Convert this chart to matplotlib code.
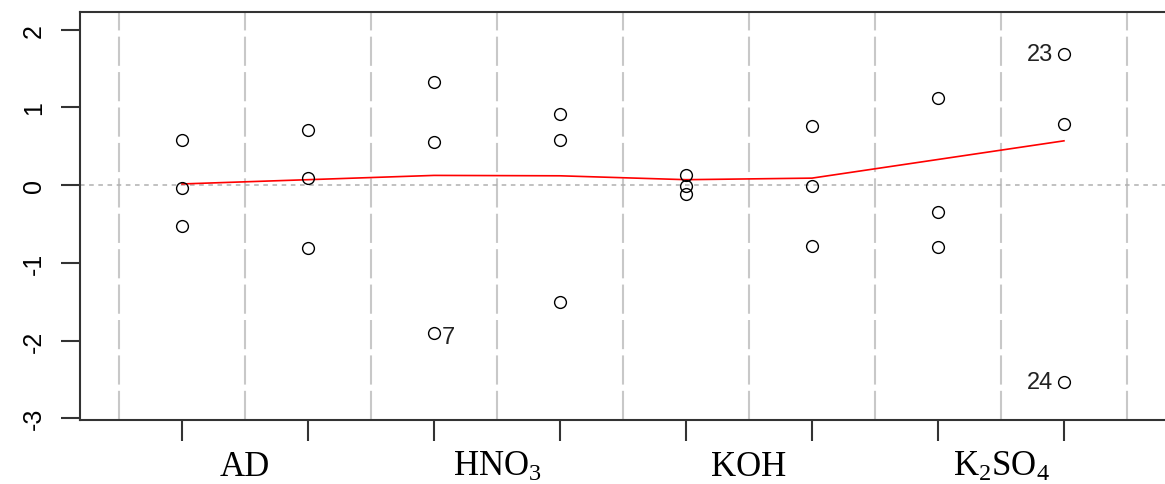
import matplotlib
matplotlib.use("Agg")
import matplotlib.pyplot as plt
import matplotlib.transforms as mtransforms
import numpy as np

# ---- data ----
group_x = [1, 1, 1, 2, 2, 2, 3, 3, 3, 4, 4, 4, 5, 5, 5, 6, 6, 6, 7, 7, 7, 8, 8, 8]
resid = [0.58, -0.04, -0.53, 0.71, 0.09, -0.81, -1.90, 1.33, 0.55,
         0.915, 0.58, -1.505, 0.13, -0.01, -0.11, 0.76, -0.01, -0.78,
         1.12, -0.35, -0.79, 0.79, 1.69, -2.53]
smooth_x = [1, 2, 3, 4, 5, 6, 7, 8]
smooth_y = [0.015, 0.07, 0.125, 0.12, 0.07, 0.09, 0.33, 0.57]
labels_idx = {7: "7", 23: "23", 24: "24"}   # 1-based observation ids
cat_pos = [1.5, 3.5, 5.5, 7.5]
cat_labels = ["AD", r"HNO$_3$", "KOH", r"K$_2$SO$_4$"]
yticks = [-3, -2, -1, 0, 1, 2]

plt.rcParams['mathtext.fontset'] = 'custom'
plt.rcParams['mathtext.rm'] = 'Liberation Serif'
plt.rcParams['mathtext.it'] = 'Liberation Serif'

fig = plt.figure(figsize=(11.65, 4.85), dpi=100)
ax = fig.add_axes([79.5 / 1165, 1 - 421 / 485, (1166 - 79.5) / 1165, (421 - 12.7) / 485])
ax.set_xlim(0.1865, 8.81)
ax.set_ylim(-3.023, 2.232)

# vertical dashed grid at half positions
for xv in np.arange(0.5, 9.0, 1.0):
    ax.axvline(xv, color="#c8c8c8", lw=1.5, dashes=(14, 3), zorder=1)
ax.axhline(0, color="#b0b0b0", lw=1.1, dashes=(3, 3), zorder=1)

ax.plot(group_x, resid, linestyle="none", marker="o", markersize=8.5,
        markerfacecolor="none", markeredgecolor="black", markeredgewidth=1.0, zorder=3)
ax.plot(smooth_x, smooth_y, color="red", lw=1.2, zorder=2)

# point labels
for i, lab in labels_idx.items():
    xv, yv = group_x[i - 1], resid[i - 1]
    if xv == 8:
        ax.text(xv - 0.085, yv, lab, ha="right", va="center", fontsize=17,
                family="Liberation Sans", color="#222222")
    else:
        ax.text(xv + 0.06, yv - 0.06, lab, ha="left", va="center", fontsize=17,
                family="Liberation Sans", color="#222222")

# spines
for s in ["left", "bottom", "top"]:
    ax.spines[s].set_linewidth(1.5)
    ax.spines[s].set_color("#333333")
ax.spines["right"].set_visible(False)

ax.set_yticks(yticks)
ax.set_yticklabels([str(v) for v in yticks], rotation=90, va="center",
                   family="Liberation Sans", fontsize=18)
ax.tick_params(axis="y", length=14, width=1.5, color="#333333", pad=10)

ax.set_xticks(smooth_x)
ax.set_xticklabels([])
ax.tick_params(axis="x", which="major", length=15, width=1.5, color="#333333")

# category labels (baseline near bottom of figure)
trans = mtransforms.blended_transform_factory(ax.transData, fig.transFigure)
for xp, lab in zip(cat_pos, cat_labels):
    ax.text(xp, 1 - 476 / 485, lab, transform=trans, ha="center", va="baseline",
            family="Liberation Serif", fontsize=25, clip_on=False)

fig.savefig("out.png", dpi=100)
